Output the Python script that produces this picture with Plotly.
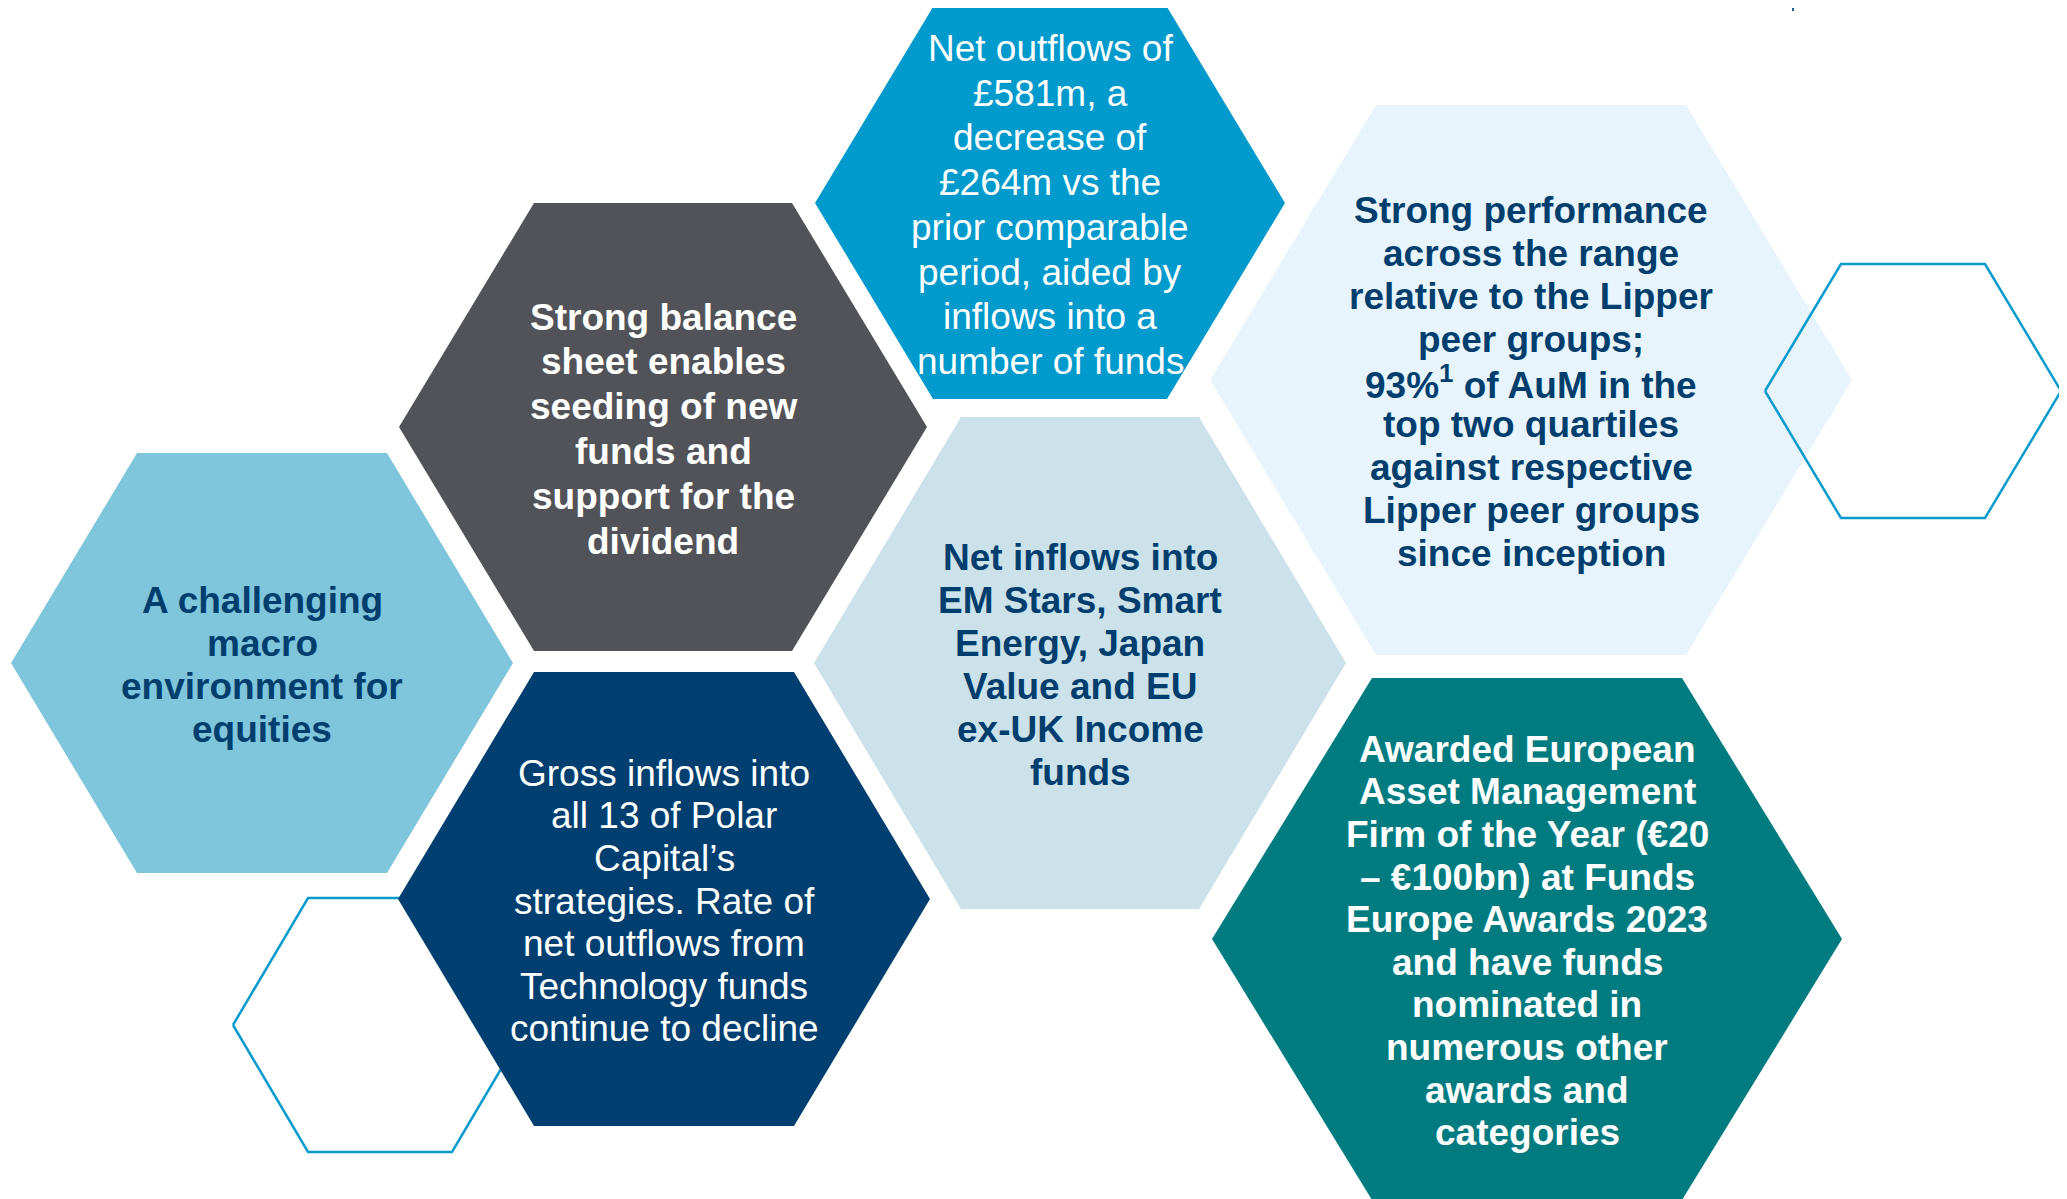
import plotly.graph_objects as go

# text inside each hexagon, one list per cell
macro_text = ["A challenging", "macro", "environment for", "equities"]
balance_text = ["Strong balance", "sheet enables", "seeding of new", "funds and",
                "support for the", "dividend"]
outflow_text = ["Net outflows of", "£581m, a", "decrease of", "£264m vs the",
                "prior comparable", "period, aided by", "inflows into a", "number of funds"]
performance_text = ["Strong performance", "across the range", "relative to the Lipper",
                    "peer groups;", "93%<sup>1</sup> of AuM in the", "top two quartiles",
                    "against respective", "Lipper peer groups", "since inception"]
inflow_text = ["Net inflows into", "EM Stars, Smart", "Energy, Japan", "Value and EU",
               "ex-UK Income", "funds"]
gross_text = ["Gross inflows into", "all 13 of Polar", "Capital’s", "strategies. Rate of",
              "net outflows from", "Technology funds", "continue to decline"]
award_text = ["Awarded European", "Asset Management", "Firm of the Year (€20",
              "– €100bn) at Funds", "Europe Awards 2023", "and have funds",
              "nominated in", "numerous other", "awards and", "categories"]

W, H = 2067, 1199
PAGE_PAD = 8  # browser body margin around the plot div
NAVY_TXT = "#003E6E"
FONT = "Liberation Sans, Arial, sans-serif"

# layout of the cells: centre x, centre y, half width, half height, half top edge
cells = [
    dict(lines=macro_text, geo=(262, 663, 251, 210, 125), fill="#7FC5DC",
         color=NAVY_TXT, bold=True, gap=42.7),
    dict(lines=balance_text, geo=(663, 427, 264, 224, 129), fill="#525358",
         color="white", bold=True, gap=44.8),
    dict(lines=outflow_text, geo=(1050, 203, 235, 196, 117), fill="#009ACC",
         color="white", bold=False, gap=44.7),
    dict(lines=performance_text, geo=(1531, 380, 321, 275, 155), fill="#E8F4FC",
         color=NAVY_TXT, bold=True, gap=42.8),
    dict(lines=inflow_text, geo=(1080, 663, 266, 246, 119), fill="#CCE2EB",
         color=NAVY_TXT, bold=True, gap=43.0),
    dict(lines=award_text, geo=(1527, 939, 315, 261, 155), fill="#007C80",
         color="white", bold=True, gap=42.6),
]
outline_left = (380, 1025, 147, 127, 72)
outline_right = (1913, 391, 148, 127, 72)
navy_cell = dict(lines=gross_text, geo=(664, 899, 266, 227, 130), fill="#003F6F",
                 color="white", bold=False, gap=42.6)


def hex_xy(geo):
    cx, cy, hw, hh, th = geo
    xs = [cx - hw, cx - th, cx + th, cx + hw, cx + th, cx - th, cx - hw]
    ys = [cy, cy - hh, cy - hh, cy, cy + hh, cy + hh, cy]
    return xs, ys


fig = go.Figure()
annotations = []


def add_cell(cell):
    xs, ys = hex_xy(cell["geo"])
    fig.add_trace(go.Scatter(x=xs, y=ys, mode="lines", fill="toself",
                             fillcolor=cell["fill"], line=dict(width=0),
                             hoverinfo="skip", showlegend=False))
    cx, cy = cell["geo"][0], cell["geo"][1]
    n = len(cell["lines"])
    for i, line in enumerate(cell["lines"]):
        txt = f"<b>{line}</b>" if cell["bold"] else line
        annotations.append(dict(
            x=cx, y=cy + (i - (n - 1) / 2) * cell["gap"] + 2, xref="x", yref="y",
            text=txt, showarrow=False, xanchor="center", yanchor="middle",
            font=dict(family=FONT, size=37, color=cell["color"])))


def add_outline(geo):
    xs, ys = hex_xy(geo)
    fig.add_trace(go.Scatter(x=xs, y=ys, mode="lines",
                             line=dict(color="#0A9BCE", width=2.5),
                             hoverinfo="skip", showlegend=False))


for c in cells:
    add_cell(c)
add_outline(outline_right)
add_outline(outline_left)
add_cell(navy_cell)

# small mark at the top edge
fig.add_trace(go.Scatter(x=[1793, 1793], y=[0, 11], mode="lines",
                         line=dict(color="#1F5F8F", width=2),
                         hoverinfo="skip", showlegend=False))

fig.update_layout(
    width=W, height=H,
    margin=dict(l=0, r=0, t=0, b=0),
    paper_bgcolor="white", plot_bgcolor="white",
    xaxis=dict(range=[PAGE_PAD, W + PAGE_PAD], visible=False, fixedrange=True),
    yaxis=dict(range=[H + PAGE_PAD, PAGE_PAD], visible=False, fixedrange=True),
    annotations=annotations,
)

fig.write_html("out.html")
